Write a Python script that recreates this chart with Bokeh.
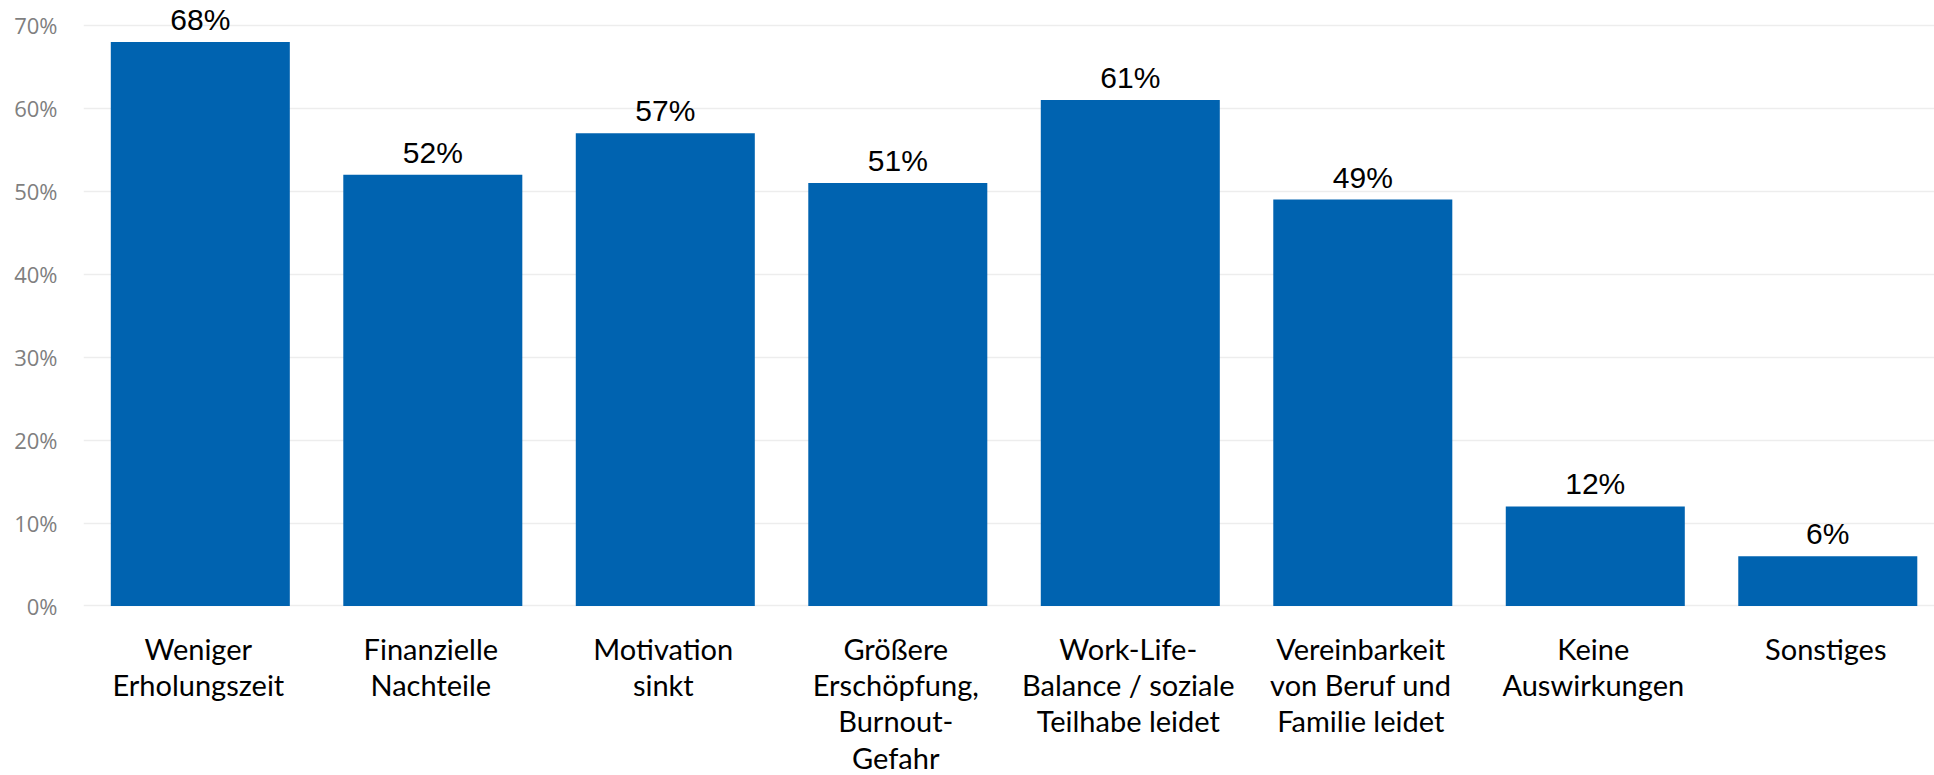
from bokeh.plotting import figure
from bokeh.models import ColumnDataSource, Range1d, FixedTicker, PrintfTickFormatter, LabelSet
from bokeh.core.properties import value
from bokeh.embed import file_html
from bokeh.resources import INLINE

categories = [
    "Weniger\nErholungszeit",
    "Finanzielle\nNachteile",
    "Motivation\nsinkt",
    "Größere\nErschöpfung,\nBurnout-\nGefahr",
    "Work-Life-\nBalance / soziale\nTeilhabe leidet",
    "Vereinbarkeit\nvon Beruf und\nFamilie leidet",
    "Keine\nAuswirkungen",
    "Sonstiges",
]
values = [68, 52, 57, 51, 61, 49, 12, 6]
value_labels = ["68%", "52%", "57%", "51%", "61%", "49%", "12%", "6%"]
y_ticks = [0, 10, 20, 30, 40, 50, 60, 70]

xs = list(range(len(categories)))
src = ColumnDataSource(dict(x=xs, top=values, lab=value_labels,
                            base=[0] * len(xs), cat=categories))

p = figure(width=1934, height=775, output_backend="svg", toolbar_location=None,
           x_range=Range1d(-0.5024, 7.459), y_range=Range1d(-20.44, 73.01),
           min_border_left=83, min_border_right=0, min_border_top=0, min_border_bottom=0)
p.outline_line_color = None
p.background_fill_color = "white"
p.border_fill_color = "white"

p.vbar(x="x", top="top", bottom=0, width=0.77, source=src,
       fill_color="#0063b0", line_color=None)

labels = LabelSet(x="x", y="top", text="lab", source=src, y_offset=12,
                  text_align="center", text_baseline="alphabetic",
                  text_font=value("Liberation Sans"), text_font_size="30px",
                  text_color="#000000")
p.add_layout(labels)

p.text(x="x", y="base", text="cat", source=src, y_offset=25, x_offset=-2,
       text_align="center", text_baseline="top",
       text_font=value("Lato"), text_font_size="29px",
       text_line_height=1.035, text_color="#000000")

# y axis
p.yaxis.ticker = FixedTicker(ticks=y_ticks)
p.yaxis.formatter = PrintfTickFormatter(format="%d%%")
p.yaxis.axis_line_color = None
p.yaxis.major_tick_line_color = None
p.yaxis.minor_tick_line_color = None
p.yaxis.major_tick_out = 0
p.yaxis.major_tick_in = 0
p.yaxis.major_label_text_font = "Open Sans"
p.yaxis.major_label_text_font_size = "22px"
p.yaxis.major_label_text_color = "#7f7f7f"
p.yaxis.major_label_standoff = 26

p.xaxis.visible = False

p.xgrid.grid_line_color = None
p.ygrid.ticker = FixedTicker(ticks=y_ticks)
p.ygrid.grid_line_color = "#ededed"
p.ygrid.grid_line_width = 1.5

open("out.html", "w").write(file_html(p, INLINE))
